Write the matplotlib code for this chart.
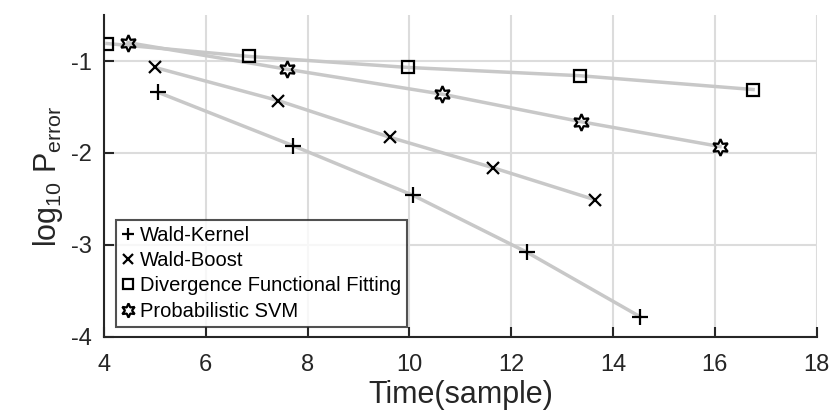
import matplotlib
matplotlib.use("Agg")
import matplotlib.pyplot as plt
from matplotlib.lines import Line2D

plt.rcParams['font.family'] = ['Liberation Sans', 'DejaVu Sans']
plt.rcParams['mathtext.fontset'] = 'custom'
plt.rcParams['mathtext.rm'] = 'Liberation Sans'
plt.rcParams['mathtext.it'] = 'Liberation Sans'

series_names = ["Wald-Kernel", "Wald-Boost", "Divergence Functional Fitting", "Probabilistic SVM"]
kernel_x = [5.06, 7.71, 10.07, 12.31, 14.53]
kernel_y = [-1.34, -1.92, -2.46, -3.08, -3.78]
boost_x = [5.00, 7.42, 9.62, 11.64, 13.65]
boost_y = [-1.07, -1.43, -1.83, -2.16, -2.51]
dff_x = [4.06, 6.85, 9.97, 13.35, 16.75]
dff_y = [-0.81, -0.95, -1.07, -1.16, -1.31]
svm_x = [4.47, 7.60, 10.64, 13.37, 16.10]
svm_y = [-0.80, -1.09, -1.36, -1.66, -1.93]

xticks = [4, 6, 8, 10, 12, 14, 16, 18]
yticks = [-4, -3, -2, -1]

fig = plt.figure(figsize=(8.3, 4.17), dpi=100)
ax = fig.add_axes([0.1253, 0.192, 0.8587, 0.772])

markers = ['+', 'x', 's', (6, 1, 0)]
msizes = [11, 8.5, 9, 12]
data = [(kernel_x, kernel_y), (boost_x, boost_y), (dff_x, dff_y), (svm_x, svm_y)]
handles = []
for (xs, ys), m, ms, name in zip(data, markers, msizes, series_names):
    ax.plot(xs, ys, color='#c8c8c8', lw=2.5, zorder=2)
    ax.plot(xs, ys, ls='none', marker=m, ms=ms, mec='black', mfc='none', mew=1.6, zorder=3)
    handles.append(Line2D([], [], ls='none', marker=m, ms=ms * 0.85, mec='black', mfc='none', mew=1.6, label=name))

ax.set_xlim(4, 18)
ax.set_ylim(-4, -0.5)
ax.set_xticks(xticks)
ax.set_yticks(yticks)
ax.set_xticklabels([str(v) for v in xticks])
ax.set_yticklabels([str(v) for v in yticks])
ax.grid(True, color='#dcdcdc', lw=1.5)
ax.set_axisbelow(True)
for s in ['top', 'right']:
    ax.spines[s].set_visible(False)
for s in ['left', 'bottom']:
    ax.spines[s].set_linewidth(1.5)
    ax.spines[s].set_color('#262626')
ax.tick_params(direction='in', length=7, width=1.5, labelsize=17, colors='#262626')
ax.tick_params(axis='x', pad=12)
ax.tick_params(axis='y', pad=9)
ax.set_xlabel('Time(sample)', fontsize=22, color='#262626', labelpad=3)
ax.set_ylabel(r'log$_{10}$ P$_{\mathrm{error}}$', fontsize=22, color='#262626', labelpad=4)

leg = ax.legend(handles=handles, loc='lower left', bbox_to_anchor=(0.017, 0.031), fontsize=14.5,
                frameon=True, fancybox=False, edgecolor='#262626', handlelength=0.6,
                handletextpad=0.3, borderpad=0.3, labelspacing=0.32, borderaxespad=0)
leg.get_frame().set_linewidth(1.5)

fig.savefig('out.png', dpi=100)
